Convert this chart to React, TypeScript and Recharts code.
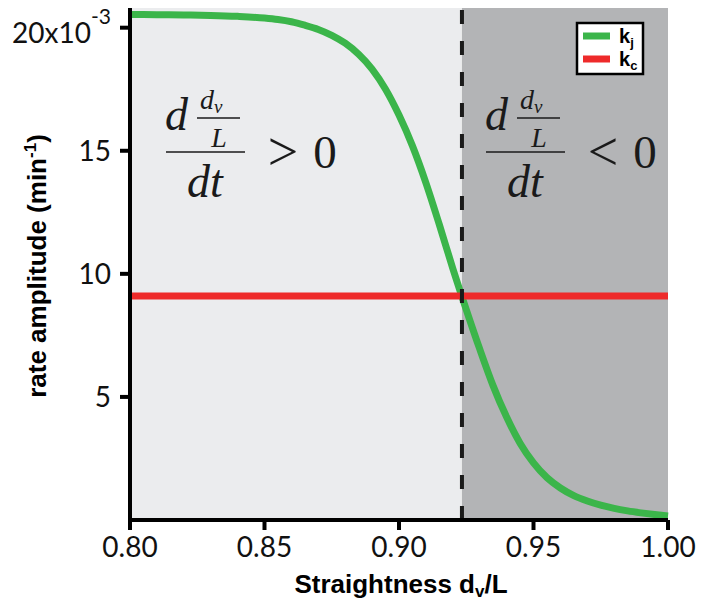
import {
  ComposedChart,
  Line,
  ReferenceArea,
  ReferenceLine,
  XAxis,
  YAxis,
} from "recharts";

// straightness d_v/L sampled along the junction-rate curve
const straightness = [
  0.8, 0.81, 0.82, 0.83, 0.84, 0.85, 0.855, 0.86, 0.865, 0.87, 0.875, 0.88,
  0.885, 0.89, 0.895, 0.9, 0.905, 0.91, 0.915, 0.92, 0.925, 0.93, 0.935, 0.94,
  0.945, 0.95, 0.955, 0.96, 0.965, 0.97, 0.975, 0.98, 0.985, 0.99, 0.995, 1.0,
];

// k_j in units of 1e-3 min^-1
const kjRate = [
  20.54, 20.53, 20.52, 20.5, 20.46, 20.39, 20.33, 20.24, 20.1, 19.93, 19.69,
  19.37, 18.92, 18.32, 17.5, 16.45, 15.2, 13.7, 12.0, 10.22, 8.55, 6.95, 5.45,
  4.18, 3.12, 2.32, 1.72, 1.3, 0.99, 0.77, 0.6, 0.47, 0.37, 0.29, 0.22, 0.16,
];

// k_c is constant over the whole range
const kcRate = 9.1;

// where k_j drops below k_c
const crossover = 0.9234;

const xTicks = [0.8, 0.85, 0.9, 0.95, 1.0];
const yTicks = [5, 10, 15, 20];

const series = [
  { key: "kj", base: "k", sub: "j", color: "#3bb54a" },
  { key: "kc", base: "k", sub: "c", color: "#ee2a2a" },
];

const data = straightness.map((s, i) => ({ s, kj: kjRate[i], kc: kcRate }));

const TICK_FONT = "Lato, 'Noto Sans', sans-serif";
const TITLE_FONT = "'Liberation Sans', Arial, sans-serif";
const MATH_FONT = "'Liberation Serif', 'DejaVu Serif', serif";

function YTick(props: any) {
  const { x, y, payload } = props;
  if (payload.value === 20) {
    return (
      <text x={x} y={y + 15} textAnchor="end" fontFamily={TICK_FONT} fontSize={28} fill="#111">
        20x10
        <tspan dy={-19} fontSize={21}>
          -3
        </tspan>
      </text>
    );
  }
  return (
    <text x={x} y={y + 10} textAnchor="end" fontFamily={TICK_FONT} fontSize={28} fill="#111">
      {payload.value}
    </text>
  );
}

function XTick(props: any) {
  const { x, y, payload } = props;
  return (
    <text x={x} y={y + 27} textAnchor="middle" fontFamily={TICK_FONT} fontSize={28} fill="#111">
      {payload.value.toFixed(2)}
    </text>
  );
}

// d(d_v/L)/dt  >  0   (or < 0), typeset by hand
function RateSign({ ox, sign }: { ox: number; sign: string }) {
  const it = { fontFamily: MATH_FONT, fontStyle: "italic", fill: "#1a1a1a" } as const;
  return (
    <g>
      <text x={ox + 165} y={130} fontSize={46} {...it}>
        d
      </text>
      <text x={ox + 200} y={109} fontSize={28} {...it}>
        d
        <tspan dy={4} fontSize={19}>
          v
        </tspan>
      </text>
      <line x1={ox + 197} x2={ox + 240} y1={118} y2={118} stroke="#1a1a1a" strokeWidth={1.3} />
      <text x={ox + 219} y={147} fontSize={28} textAnchor="middle" {...it}>
        L
      </text>
      <line x1={ox + 166} x2={ox + 245} y1={152} y2={152} stroke="#1a1a1a" strokeWidth={1.6} />
      <text x={ox + 205} y={197} fontSize={46} textAnchor="middle" {...it}>
        dt
      </text>
      <text x={ox + 283} y={170} fontSize={54} textAnchor="middle" fontFamily={MATH_FONT} fill="#1a1a1a">
        {sign}
      </text>
      <text x={ox + 325} y={168} fontSize={47} textAnchor="middle" fontFamily={MATH_FONT} fill="#1a1a1a">
        0
      </text>
    </g>
  );
}

// math labels, legend and axis titles drawn above the plot
function Overlay() {
  return (
    <svg
      width={702}
      height={605}
      style={{ position: "absolute", left: 0, top: 0, pointerEvents: "none" }}
    >
      <RateSign ox={0} sign=">" />
      <RateSign ox={320} sign="<" />

      <rect x={577} y={23} width={66} height={51} fill="#fff" stroke="#000" strokeWidth={2.5} />
      {series.map((s, i) => (
        <g key={s.key}>
          <line x1={583} x2={610} y1={36 + i * 23} y2={36 + i * 23} stroke={s.color} strokeWidth={7} />
          <text x={619} y={43 + i * 23} fontFamily={TITLE_FONT} fontWeight="bold" fontSize={20} fill="#000">
            {s.base}
            <tspan dy={4} fontSize={13}>
              {s.sub}
            </tspan>
          </text>
        </g>
      ))}

      <text
        transform="translate(46, 266) rotate(-90)"
        textAnchor="middle"
        fontFamily={TITLE_FONT}
        fontWeight="bold"
        fontSize={26}
        fill="#000"
      >
        rate amplitude (min
        <tspan dy={-10} fontSize={17}>
          -1
        </tspan>
        <tspan dy={10}>)</tspan>
      </text>
      <text x={401} y={593} textAnchor="middle" fontFamily={TITLE_FONT} fontWeight="bold" fontSize={26} fill="#000">
        Straightness d
        <tspan dy={4} fontSize={17}>
          v
        </tspan>
        <tspan dy={-4}>/L</tspan>
      </text>
    </svg>
  );
}

export default function App() {
  return (
    <div style={{ position: "absolute", left: 0, top: 0, width: 702, height: 605, background: "#fff" }}>
      <ComposedChart
        width={702}
        height={605}
        data={data}
        margin={{ top: 8, right: 34, bottom: 0, left: 30 }}
      >
        <XAxis
          dataKey="s"
          type="number"
          domain={[0.8, 1.0]}
          ticks={xTicks}
          height={85}
          axisLine={{ stroke: "#000", strokeWidth: 4 }}
          tickLine={{ stroke: "#000", strokeWidth: 4 }}
          tickSize={10}
          tickMargin={0}
          tick={<XTick />}
        />
        <YAxis
          type="number"
          domain={[0, 20.8]}
          ticks={yTicks}
          width={100}
          axisLine={{ stroke: "#000", strokeWidth: 4 }}
          tickLine={{ stroke: "#000", strokeWidth: 4 }}
          tickSize={10}
          tickMargin={9}
          tick={<YTick />}
        />
        <ReferenceArea x1={0.8} x2={crossover} fill="#ebecee" fillOpacity={1} stroke="none" />
        <ReferenceArea x1={crossover} x2={1.0} fill="#b3b4b6" fillOpacity={1} stroke="none" />
        <Line
          dataKey="kj"
          type="monotone"
          stroke={series[0].color}
          strokeWidth={7}
          dot={false}
          isAnimationActive={false}
        />
        <Line
          dataKey="kc"
          type="linear"
          stroke={series[1].color}
          strokeWidth={7}
          dot={false}
          isAnimationActive={false}
        />
        <ReferenceLine x={crossover} stroke="#1a1a1a" strokeWidth={4} strokeDasharray="14 17" />
      </ComposedChart>
      <Overlay />
    </div>
  );
}
